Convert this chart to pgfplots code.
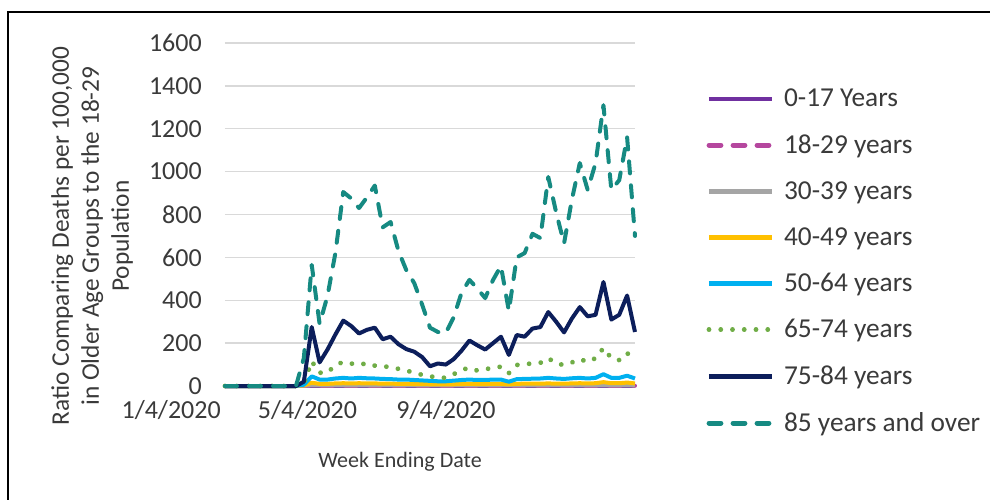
\documentclass[border=0pt]{standalone}
\usepackage{pgfplots}
\pgfplotsset{compat=1.18}
\usepackage{pgfplotstable}
\usepackage{fontspec}
\setmainfont{Carlito}
\definecolor{cA}{HTML}{7030A0}
\definecolor{cB}{HTML}{B5479E}
\definecolor{cC}{HTML}{A5A5A5}
\definecolor{cD}{HTML}{FFC000}
\definecolor{cE}{HTML}{00B0F0}
\definecolor{cF}{HTML}{70AD47}
\definecolor{cG}{HTML}{0C1E5B}
\definecolor{cH}{HTML}{168A82}
\definecolor{txt}{HTML}{3A3A3A}
\definecolor{gridc}{HTML}{D9D9D9}

\pgfplotstableread{
w a b c d e f g h
0 0 0 0 0 0 0 0 0
1 0 0 0 0 0 0 0 0
2 0 0 0 0 0 0 0 0
3 0 0 0 0 0 0 0 0
4 0 0 0 0 0 0 0 0
5 0 0 0 0 0 0 0 0
6 0 0 0 0 0 0 0 0
7 0 0 0 0 0 0 0 0
8 0 0 0 0 0 0 0 0
9 0 0 0 0 0 0 0 0
10 0.1 1 2 3 6 12 20 130
11 0.1 1 3 15 45 115 275 565
12 0.1 1 3 10 30 62 110 290
13 0.1 1 3 10 30 62 170 420
14 0.1 1 3 12 35 98 240 620
15 0.1 1 3 13 38 112 305 905
16 0.1 1 3 12 35 105 280 875
17 0.1 1 3 13 38 98 245 830
18 0.1 1 3 12 36 107 262 880
19 0.1 1 3 12 35 95 272 935
20 0.1 1 3 11 33 92 218 740
21 0.1 1 3 11 32 88 230 765
22 0.1 1 3 10 30 80 195 630
23 0.1 1 3 10 30 72 172 540
24 0.1 1 3 9 28 62 160 480
25 0.1 1 3 9 26 52 135 380
26 0.1 1 3 8 24 45 92 272
27 0.1 1 3 8 22 40 105 252
28 0.1 1 3 8 22 38 100 247
29 0.1 1 3 8 25 55 125 320
30 0.1 1 3 9 28 75 165 435
31 0.1 1 3 10 30 85 212 495
32 0.1 1 3 9 28 72 190 455
33 0.1 1 3 9 28 78 170 410
34 0.1 1 3 10 30 85 200 495
35 0.1 1 3 10 30 90 230 560
36 0.1 1 3 7 20 60 145 350
37 0.1 1 3 10 32 98 238 600
38 0.1 1 3 11 33 102 230 620
39 0.1 1 3 11 34 105 268 710
40 0.1 1 3 11 35 108 275 690
41 0.1 1 3 12 38 130 345 975
42 0.1 1 3 11 35 105 300 810
43 0.1 1 3 11 33 98 250 665
44 0.1 1 3 12 36 110 315 870
45 0.1 1 3 13 38 126 368 1040
46 0.1 1 3 12 35 112 325 915
47 0.1 1 3 13 38 130 332 1040
48 0.1 1 3 18 55 177 485 1310
49 0.1 1 3 13 38 130 310 915
50 0.1 1 3 13 38 121 332 960
51 0.1 1 3 16 48 154 422 1160
52 0.1 1 3 12 35 117 252 700
}\datatable

\begin{document}
\begin{tikzpicture}
\useasboundingbox (-168.75pt,-85.5pt) rectangle (573.75pt,289.5pt);
\clip (-168.75pt,-85.5pt) rectangle (573.75pt,289.5pt);
\draw[line width=1.5pt, black] (-162.75pt,-120pt) -- (-162.75pt,280.5pt) -- (620pt,280.5pt);
\begin{axis}[
  at={(0,0)}, anchor=south west,
  scale only axis, width=307.5pt, height=257.25pt,
  xmin=0, xmax=52, ymin=0, ymax=1600,
  clip=false,
  axis line style={draw=none},
  major tick length=0pt,
  ytick={0,200,...,1600},
  xtick={0,17.2857,34.8571},
  xticklabels={1/4/2020,5/4/2020,9/4/2020},
  ymajorgrids,
  grid style={draw=gridc, line width=1.1pt},
  scaled y ticks=false,
  /pgf/number format/assume math mode=true,
  yticklabel style={/pgf/number format/1000 sep={}, font=\fontsize{19.5}{20}\selectfont, text=txt, anchor=east, inner sep=0pt, xshift=-17.25pt},
  xticklabel style={font=\fontsize{19.5}{20}\selectfont, text=txt, anchor=north east, inner sep=0pt, yshift=-10.5pt, xshift=-3pt},
  xlabel={Week Ending Date},
  xlabel style={font=\fontsize{16.5}{18}\selectfont, text=txt, at={(axis description cs:0.427,-0.222)}, anchor=center},
  ylabel={Ratio Comparing Deaths per 100,000\\in Older Age Groups to the 18-29\\Population},
  ylabel style={font=\fontsize{19}{22.5}\selectfont, text=txt, align=center, at={(axis description cs:-0.324,0.437)}, anchor=center},
  legend style={at={(axis description cs:1.174,0.874)}, anchor=north west, draw=none, fill=none,
    font=\fontsize{20.5}{24}\selectfont, text=txt, row sep=15.5pt, inner sep=0pt},
  legend cell align=left,
  legend image code/.code={\draw[#1, line width=3.6pt] (0pt,0pt) -- (47pt,0pt); \path (52.5pt,0pt);},
  every axis plot/.append style={line width=3pt, line join=round, mark=none},
]
\addplot[cA] table[x=w,y=a]{\datatable};
\addlegendentry{0-17 Years}
\addplot[cB, dash pattern=on 9pt off 9pt, line cap=round] table[x=w,y=b]{\datatable};
\addlegendentry{18-29 years}
\addplot[cC] table[x=w,y=c]{\datatable};
\addlegendentry{30-39 years}
\addplot[cD] table[x=w,y=d]{\datatable};
\addlegendentry{40-49 years}
\addplot[cE] table[x=w,y=e]{\datatable};
\addlegendentry{50-64 years}
\addplot[cF, line width=3.6pt, line cap=round, dash pattern=on 0.01pt off 8.8pt] table[x=w,y=f]{\datatable};
\addlegendentry{65-74 years}
\addplot[cG] table[x=w,y=g]{\datatable};
\addlegendentry{75-84 years}
\addplot[cH, dash pattern=on 9pt off 9pt, line cap=round] table[x=w,y=h]{\datatable};
\addlegendentry{85 years and over}
\end{axis}
\end{tikzpicture}
\end{document}
